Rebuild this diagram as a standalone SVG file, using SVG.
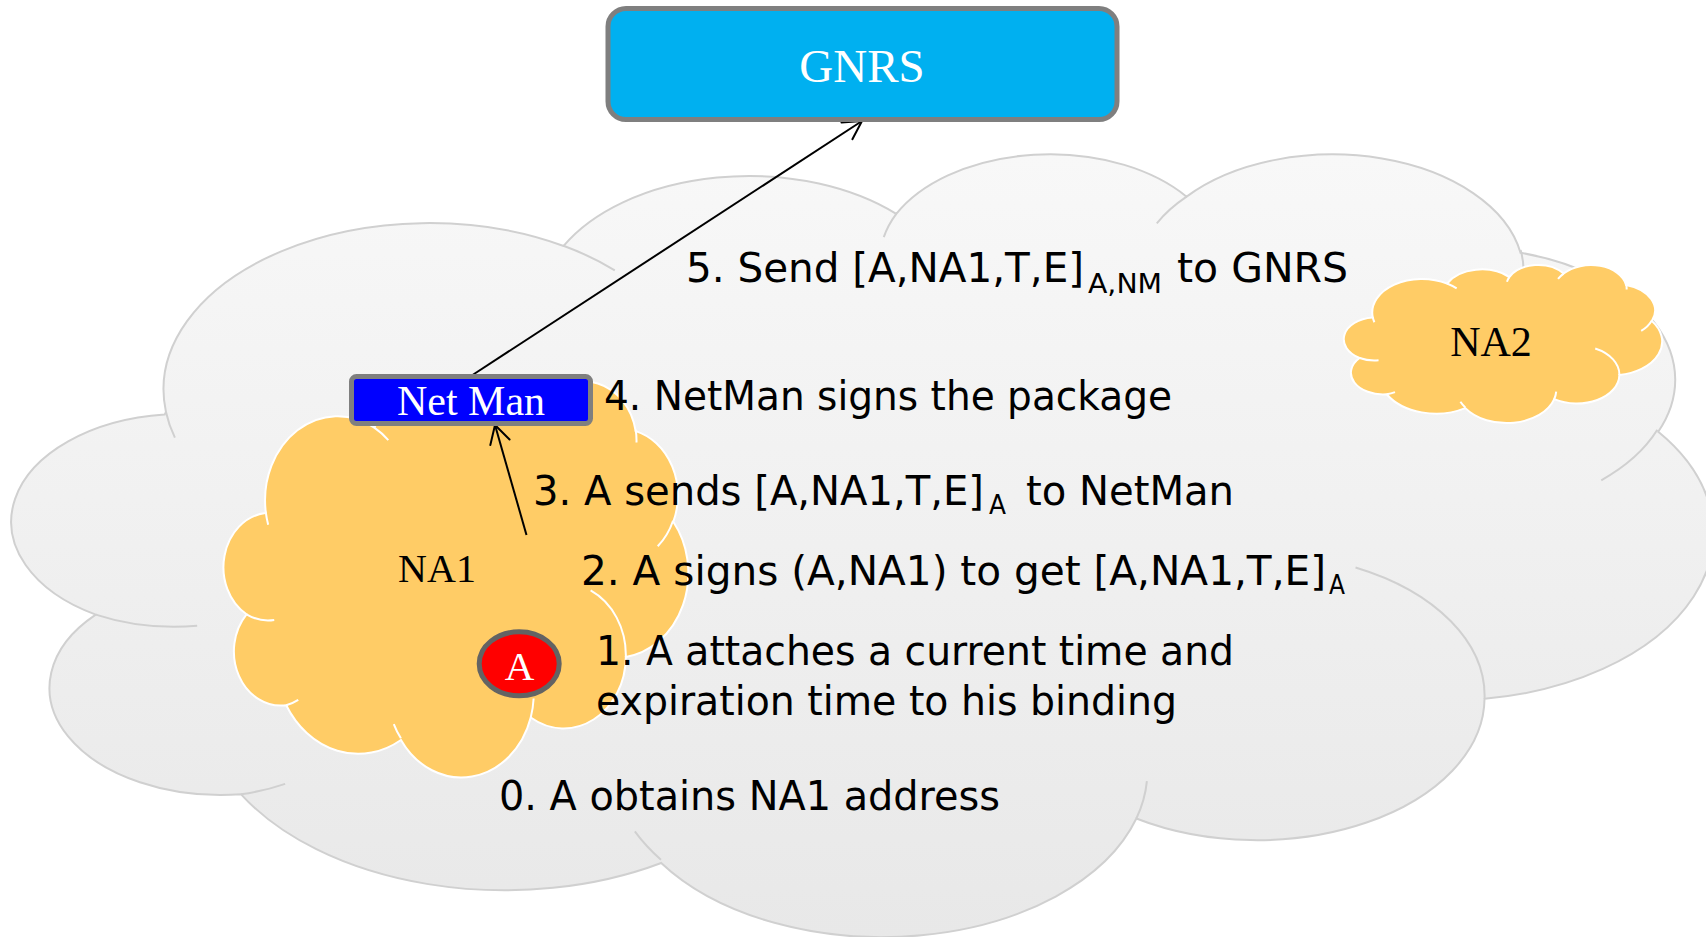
<svg xmlns="http://www.w3.org/2000/svg" xmlns:xlink="http://www.w3.org/1999/xlink" width="1706" height="937" viewBox="0 0 1706 937">
  <style>
    .edge { vector-effect: non-scaling-stroke; }
    .sky { fill: url(#skyFill); stroke: #d0d0d0; stroke-width: 2; }
    .sky-seam { fill: none; stroke: #d0d0d0; stroke-width: 2; }
    .na { fill: #ffcc66; stroke: #ffffff; stroke-width: 2; }
    .na-seam { fill: none; stroke: #ffffff; stroke-width: 2; }
    .serif { font-family: "Liberation Serif", "Times New Roman", serif; }
    .step { font-family: "DejaVu Sans", "Liberation Sans", sans-serif; font-size: 40px; fill: #000000; }
    .sub { font-size: 27px; }
    .link { fill: none; stroke: #000000; stroke-width: 2; marker-end: url(#openHead); }
  </style>
  <defs>
    <linearGradient id="skyFill" x1="0" y1="0" x2="0" y2="1">
      <stop offset="0" stop-color="#f8f8f8"/>
      <stop offset="1" stop-color="#e8e8e8"/>
    </linearGradient>
    <!-- cloud outline, drawn in a 43200 x 43200 unit box -->
    <path id="cloudBody" class="edge" d="M3900,14370 A6753,9190 0 0 1 14005,5203 A5333,7267 0 0 1 22458,3435 A4365,5945 0 0 1 29836,2483 A4857,6595 0 0 1 38321,5579 A5333,7273 0 0 1 41821,15463 A6775,9220 0 0 1 37407,30206 A5785,7867 0 0 1 28559,36816 A6752,9215 0 0 1 16484,39269 A7720,10543 0 0 1 5809,35478 A4360,5918 0 0 1 2116,25558 A4345,5945 0 0 1 3866,14515 Z"/>
    <!-- short inner arcs where the puffs overlap -->
    <path id="cloudSeams" class="edge" d="M4693,26177 A4345,5945 0 0 1 2116,25558 M6928,34899 A4360,5918 0 0 1 5809,35478 M16478,39090 A6752,9215 0 0 1 15815,37528 M28827,34751 A6752,9215 0 0 1 28559,36816 M34129,22954 A5785,7867 0 0 1 37407,30206 M41798,15354 A5333,7273 0 0 1 40373,18139 M38324,5426 A4857,6595 0 0 1 38397,6818 M29078,3952 A4857,6595 0 0 1 29836,2483 M22141,4720 A4365,5945 0 0 1 22458,3435 M14000,5192 A6753,9190 0 0 1 15305,6550 M4127,15789 A6753,9190 0 0 1 3900,14370"/>
    <marker id="openHead" markerUnits="userSpaceOnUse" markerWidth="26" markerHeight="26" viewBox="-22 -13 26 26" refX="0" refY="0" orient="auto">
      <path d="M-18,-10 L0,0 L-18,10" fill="none" stroke="#000000" stroke-width="2" stroke-linejoin="round" stroke-linecap="round"/>
    </marker>
  </defs>

  <!-- the wide internet cloud -->
  <g id="internet" transform="translate(12.5,151.7) scale(0.039352,0.018113)">
    <use xlink:href="#cloudBody" class="sky"/>
    <use xlink:href="#cloudSeams" class="sky-seam"/>
  </g>

  <!-- network NA1 -->
  <g id="na1">
    <g transform="translate(223.8,380) scale(0.010748,0.009167)">
      <use xlink:href="#cloudBody" class="na"/>
      <use xlink:href="#cloudSeams" class="na-seam"/>
    </g>
    <text class="serif" x="437" y="582" font-size="40" text-anchor="middle" fill="#000000">NA1</text>
  </g>

  <!-- network NA2 -->
  <g id="na2">
    <g transform="translate(1344,264.5) scale(0.007361,0.003657)">
      <use xlink:href="#cloudBody" class="na"/>
      <use xlink:href="#cloudSeams" class="na-seam"/>
    </g>
    <text class="serif" x="1491" y="356" font-size="42" text-anchor="middle" fill="#000000">NA2</text>
  </g>

  <!-- protocol steps -->
  <g id="steps">
    <text class="step" x="686" y="282" textLength="398" lengthAdjust="spacingAndGlyphs">5. Send [A,NA1,T,E]</text>
    <text class="step sub" x="1088" y="293" textLength="74" lengthAdjust="spacingAndGlyphs">A,NM</text>
    <text class="step" x="1177" y="282" textLength="171" lengthAdjust="spacingAndGlyphs">to GNRS</text>

    <text class="step" x="604" y="410" textLength="568" lengthAdjust="spacingAndGlyphs">4. NetMan signs the package</text>

    <text class="step" x="533" y="505" textLength="451" lengthAdjust="spacingAndGlyphs">3. A sends [A,NA1,T,E]</text>
    <text class="step sub" x="989" y="514" textLength="17" lengthAdjust="spacingAndGlyphs">A</text>
    <text class="step" x="1026" y="505" textLength="208" lengthAdjust="spacingAndGlyphs">to NetMan</text>

    <text class="step" x="581" y="585" textLength="745" lengthAdjust="spacingAndGlyphs">2. A signs (A,NA1) to get [A,NA1,T,E]</text>
    <text class="step sub" x="1329" y="594" textLength="16" lengthAdjust="spacingAndGlyphs">A</text>

    <text class="step" x="596" y="665" textLength="638" lengthAdjust="spacingAndGlyphs">1. A attaches a current time and</text>
    <text class="step" x="596" y="715" textLength="581" lengthAdjust="spacingAndGlyphs">expiration time to his binding</text>

    <text class="step" x="499" y="810" textLength="501" lengthAdjust="spacingAndGlyphs">0. A obtains NA1 address</text>
  </g>

  <!-- message flow -->
  <g id="connectors">
    <line class="link" x1="526.5" y1="535" x2="495" y2="425"/>
    <line class="link" x1="471" y1="376" x2="862" y2="121"/>
  </g>

  <!-- network manager -->
  <g id="netman">
    <rect x="351.5" y="376.5" width="239" height="47" rx="5" fill="#0000ff" stroke="#7f7f7f" stroke-width="5"/>
    <text class="serif" x="471" y="415" font-size="42" text-anchor="middle" fill="#ffffff">Net Man</text>
  </g>

  <!-- host A -->
  <g id="host-a">
    <ellipse cx="519.2" cy="663.8" rx="40" ry="32" fill="#ff0000" stroke="#636363" stroke-width="5"/>
    <text class="serif" x="519.5" y="680" font-size="41" text-anchor="middle" fill="#ffffff">A</text>
  </g>

  <!-- name resolution service -->
  <g id="gnrs">
    <rect x="608" y="8.5" width="509" height="111" rx="18" fill="#00b0f0" stroke="#7f7f7f" stroke-width="5"/>
    <text class="serif" x="862" y="82" font-size="47" text-anchor="middle" fill="#ffffff">GNRS</text>
  </g>
</svg>
